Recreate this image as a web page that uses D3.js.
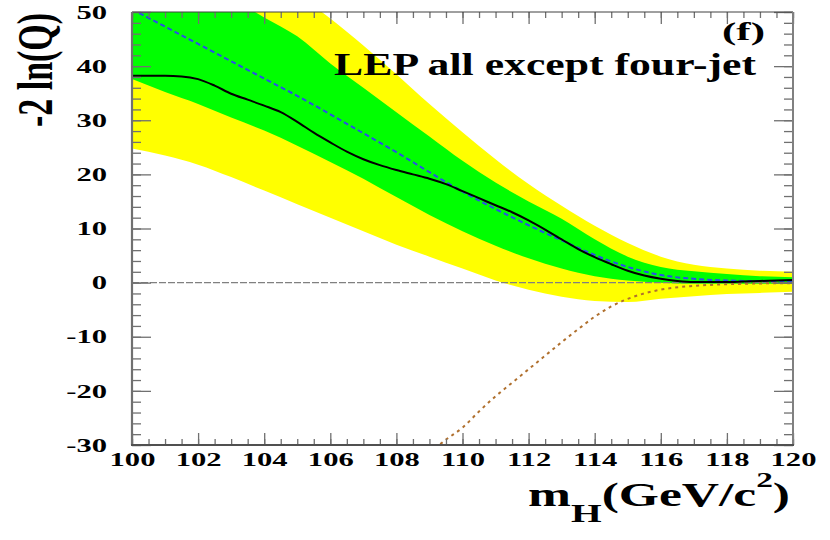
<!DOCTYPE html>
<html>
<head>
<meta charset="utf-8">
<script src="https://cdn.jsdelivr.net/npm/d3@7"></script>
<style>
  body { margin: 0; background: #fff; }
  svg { display: block; }
  text { font-family: "Liberation Serif", "Times New Roman", serif; font-weight: bold; fill: #000; }
</style>
</head>
<body>
<svg id="chart" width="830" height="540"></svg>
<script>
// Higgs mass grid (GeV/c^2) for bands and expected background
const mass = [100, 101, 102, 103, 104, 105, 106, 107, 108, 109, 110,
              111, 112, 113, 114, 115, 116, 117, 118, 119, 120];
const yellowHigh = [72, 68, 64.5, 61, 57.5, 53.3, 48.8, 43.8, 38.5, 33, 27.8,
                    22.8, 18.2, 14.2, 10.5, 7.3, 4.8, 3.3, 2.6, 2.2, 2.0];
const yellowLow = [24.8, 23.5, 21.8, 19.5, 17, 14.5, 12, 9.5, 7, 4.8, 2.6,
                   0.4, -1.3, -2.6, -3.4, -3.6, -3.0, -2.5, -2.1, -1.9, -1.7];
const greenHigh = [62, 59, 56, 52.6, 49, 45.5, 40.5, 36, 31.5, 27, 22.5,
                   18.5, 15, 11.8, 8, 4.8, 2.9, 2.1, 1.6, 1.2, 1.0];
const greenLow = [37.6, 35.2, 33, 30.5, 28.1, 25.3, 22.3, 19.2, 15.8, 12.5, 9.5,
                  6.8, 4.5, 2.6, 1.2, 0.4, 0.0, -0.2, -0.2, -0.2, -0.2];
const expBkg = [50.5, 47.3, 44.1, 40.9, 37.7, 34.5, 31.1, 27.6, 24.1, 20.4, 16.8,
                13.6, 10.6, 7.8, 5.1, 2.9, 1.4, 0.7, 0.4, 0.3, 0.3];

// observed
const obsMass = [100, 100.5, 101, 101.5, 102, 102.5, 103, 103.5, 104, 104.5, 105,
                 105.5, 106, 106.5, 107, 107.5, 108, 108.5, 109, 109.5, 110,
                 110.5, 111, 111.5, 112, 112.5, 113, 113.5, 114, 114.5, 115,
                 115.5, 116, 116.5, 117, 117.5, 118, 118.5, 119, 119.5, 120];
const observed = [38.2, 38.2, 38.2, 38.1, 37.6, 36.4, 34.9, 33.8, 32.7, 31.5, 29.7,
                  27.7, 25.9, 24.2, 22.8, 21.7, 20.8, 20.0, 19.2, 18.2, 16.9,
                  15.6, 14.3, 13.0, 11.5, 9.8, 8.0, 6.2, 4.7, 3.4, 2.2,
                  1.3, 0.7, 0.3, 0.1, 0.1, 0.1, 0.2, 0.3, 0.4, 0.5];

// expected signal+background
const sbMass = [109, 109.5, 110, 110.5, 111, 111.5, 112, 112.5, 113, 113.5, 114,
                114.5, 115, 115.5, 116, 117, 118, 119, 120];
const expSB = [-31.5, -29.0, -26.8, -23.8, -21.0, -18.5, -16.0, -13.5, -11.0, -8.6, -6.3,
               -4.4, -3.0, -2.0, -1.3, -0.6, -0.3, -0.15, -0.1];

const xMajor = [100, 102, 104, 106, 108, 110, 112, 114, 116, 118, 120];
const yMajor = [-30, -20, -10, 0, 10, 20, 30, 40, 50];

const svg = d3.select("#chart");
const frameL = 132, frameR = 793, frameT = 12, frameB = 445;

const x = d3.scaleLinear().domain([100, 120]).range([frameL, frameR]);
const y = d3.scaleLinear().domain([-30, 50]).range([frameB, frameT]);

const xMinor = d3.range(100, 120.01, 0.5);
const yMinor = d3.range(-30, 50.01, 2);

svg.append("clipPath").attr("id", "plot")
  .append("rect")
  .attr("x", frameL).attr("y", frameT)
  .attr("width", frameR - frameL).attr("height", frameB - frameT);

const plot = svg.append("g").attr("clip-path", "url(#plot)");

function band(lo, hi) {
  return d3.area()
    .x((d, i) => x(mass[i]))
    .y0((d, i) => y(lo[i]))
    .y1((d, i) => y(hi[i]))
    .curve(d3.curveMonotoneX)(mass);
}

plot.append("path").attr("d", band(yellowLow, yellowHigh)).attr("fill", "#ffff00");
plot.append("path").attr("d", band(greenLow, greenHigh)).attr("fill", "#00ff00");

// zero line
plot.append("line")
  .attr("x1", x(100)).attr("x2", x(120))
  .attr("y1", y(0)).attr("y2", y(0))
  .attr("stroke", "#808080").attr("stroke-width", 1.2)
  .attr("stroke-dasharray", "7,2");

const line = (xs, ys) => d3.line()
  .x((d, i) => x(xs[i]))
  .y((d, i) => y(ys[i]))
  .curve(d3.curveMonotoneX)(xs);

plot.append("path").attr("d", line(mass, expBkg))
  .attr("fill", "none").attr("stroke", "#2a4ee8").attr("stroke-width", 2)
  .attr("stroke-dasharray", "5,3");

plot.append("path").attr("d", line(sbMass, expSB))
  .attr("fill", "none").attr("stroke", "#b0702e").attr("stroke-width", 2)
  .attr("stroke-dasharray", "3,4");

plot.append("path").attr("d", line(obsMass, observed))
  .attr("fill", "none").attr("stroke", "#000").attr("stroke-width", 2);

// ticks on all four sides, pointing inside
function ticks(axis, vals, size, tx, ty) {
  const g = svg.append("g").attr("transform", `translate(${tx},${ty})`)
    .call(axis.tickValues(vals).tickSize(size).tickFormat(""));
  g.select(".domain").remove();
  g.selectAll(".tick line").attr("stroke", "#707070").attr("stroke-width", 1.3);
}
ticks(d3.axisTop(x), xMinor, 6, 0, frameB);
ticks(d3.axisTop(x), xMajor, 12, 0, frameB);
ticks(d3.axisBottom(x), xMinor, 6, 0, frameT);
ticks(d3.axisBottom(x), xMajor, 12, 0, frameT);
ticks(d3.axisRight(y), yMinor, 9, frameL, 0);
ticks(d3.axisRight(y), yMajor, 19, frameL, 0);
ticks(d3.axisLeft(y), yMinor, 9, frameR, 0);
ticks(d3.axisLeft(y), yMajor, 19, frameR, 0);

// frame
svg.append("line").attr("x1", frameL).attr("x2", frameR).attr("y1", frameT).attr("y2", frameT)
  .attr("stroke", "#404040").attr("stroke-width", 1);
svg.append("line").attr("x1", frameR).attr("x2", frameR).attr("y1", frameT).attr("y2", frameB)
  .attr("stroke", "#808080").attr("stroke-width", 2);
svg.append("line").attr("x1", frameL).attr("x2", frameL).attr("y1", frameT).attr("y2", frameB)
  .attr("stroke", "#707070").attr("stroke-width", 2.2);
svg.append("line").attr("x1", frameL - 1).attr("x2", frameR + 1).attr("y1", frameB).attr("y2", frameB)
  .attr("stroke", "#505050").attr("stroke-width", 2);

// tick labels (the original figure is stretched sideways)
const sx = 1.7;
const yLab = svg.append("g").attr("transform", `translate(${frameL},0)`)
  .call(d3.axisLeft(y).tickValues(yMajor).tickSize(0).tickFormat(d => String(d)));
yLab.select(".domain").remove();
yLab.selectAll("text")
  .attr("x", -25 / sx).attr("dy", "0.34em")
  .attr("transform", `scale(${sx},1)`)
  .style("font-size", "18px").style("font-family", null);

const xLab = svg.append("g").attr("transform", `translate(0,${frameB})`)
  .call(d3.axisBottom(x).tickValues(xMajor).tickSize(0).tickFormat(d => String(d)));
xLab.select(".domain").remove();
xLab.selectAll("text")
  .attr("y", 8).attr("dy", "0.71em")
  .attr("transform", `scale(${sx},1)`)
  .style("font-size", "18px").style("font-family", null);

// stretched text helper: fits text to a measured width, anchored at right end
function fitText(g, width) {
  const t = g.select("text");
  const w = t.node().getComputedTextLength();
  t.attr("transform", `scale(${width / w},1)`);
}

const tag = svg.append("g").attr("transform", "translate(765,40)");
tag.append("text").attr("text-anchor", "end").style("font-size", "26px").text("(f)");
fitText(tag, 43);

const title = svg.append("g").attr("transform", "translate(756,75)");
title.append("text").attr("text-anchor", "end").style("font-size", "32px")
  .text("LEP all except four-jet");
fitText(title, 422);

const xt = svg.append("g").attr("transform", "translate(790,506)");
const xtt = xt.append("text").attr("text-anchor", "end").style("font-size", "34px");
xtt.append("tspan").text("m");
xtt.append("tspan").attr("dy", 16).style("font-size", "26px").text("H");
xtt.append("tspan").attr("dy", -16).text("(GeV/c");
xtt.append("tspan").attr("dy", -19).style("font-size", "22px").text("2");
xtt.append("tspan").attr("dy", 19).text(")");
fitText(xt, 262);

svg.append("text")
  .attr("transform", "translate(52,70) scale(1.5,1) rotate(-90)")
  .attr("text-anchor", "middle")
  .style("font-size", "34px")
  .text("-2 ln(Q)");
</script>
</body>
</html>
